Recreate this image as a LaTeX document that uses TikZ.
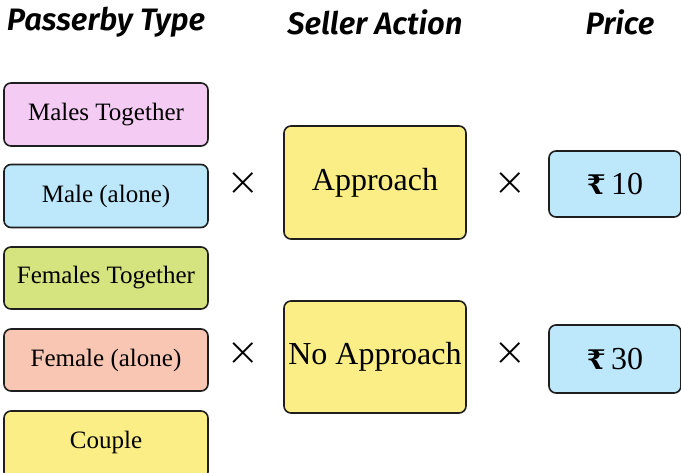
\documentclass[tikz,border=0pt]{standalone}
\usepackage{fontspec}
\setmainfont{Liberation Serif}
\newfontfamily\headfont{Fira Sans}[UprightFont=* SemiBold, ItalicFont=* SemiBold Italic]
\newfontfamily\rupeefont{DejaVu Serif}
\newfontfamily\symfont{DejaVu Sans}[UprightFont=* ExtraLight]
\definecolor{cpink}{HTML}{F3CBF3}
\definecolor{cblue}{HTML}{BDE7FB}
\definecolor{cgreen}{HTML}{D5E47F}
\definecolor{csalmon}{HTML}{F8C6B2}
\definecolor{cyellow}{HTML}{FBEE86}
\definecolor{cline}{HTML}{1E1E1E}
\tikzset{
  x=1pt,y=1pt,
  box/.style={draw=cline, line width=1.6pt, rounded corners=7pt, inner sep=0pt, font=\fontsize{25}{28}\selectfont},
  bigbox/.style={box, font=\fontsize{32}{36}\selectfont},
  head/.style={font=\headfont\itshape\fontsize{31}{34}\selectfont, inner sep=0pt},
  times/.style={font=\symfont\fontsize{40}{40}\selectfont, inner sep=0pt}
}
\newcommand{\rup}{{\rupeefont\bfseries\fontsize{27}{30}\selectfont ₹}}
\begin{document}
\begin{tikzpicture}
\useasboundingbox (0,0) rectangle (681,473);
\node[head] (h1) at (106,451) {Passerby Type};
\node[head] (h2) at (375,451) {Seller Action};
\node[head] (h3) at (620,451) {Price};
\node[box, fill=cpink, minimum width=204, minimum height=63] (b1) at (106,358.5) {Males Together};
\node[box, fill=cblue, minimum width=204, minimum height=63] (b2) at (106,277) {Male (alone)};
\node[box, fill=cgreen, minimum width=204, minimum height=62] (b3) at (106,195) {Females Together};
\node[box, fill=csalmon, minimum width=204, minimum height=62] (b4) at (106,113) {Female (alone)};
\node[box, fill=cyellow, minimum width=204, minimum height=68] (b5) at (106,28) {};
\node[font=\fontsize{25}{28}\selectfont] (b5t) at (106,31) {Couple};
\node[bigbox, fill=cyellow, minimum width=182, minimum height=113] (a1) at (375,290.5) {Approach};
\node[bigbox, fill=cyellow, minimum width=182, minimum height=112] (a2) at (375,116) {No Approach};
\node[bigbox, fill=cblue, minimum width=132, minimum height=66] (p1) at (615,289) {\rup\,10};
\node[bigbox, fill=cblue, minimum width=132, minimum height=68] (p2) at (615,114) {\rup\,30};
\node[times] (x1) at (243,289) {×};
\node[times] (x2) at (243,119) {×};
\node[times] (x3) at (510,289) {×};
\node[times] (x4) at (510,119) {×};
\end{tikzpicture}
\end{document}
